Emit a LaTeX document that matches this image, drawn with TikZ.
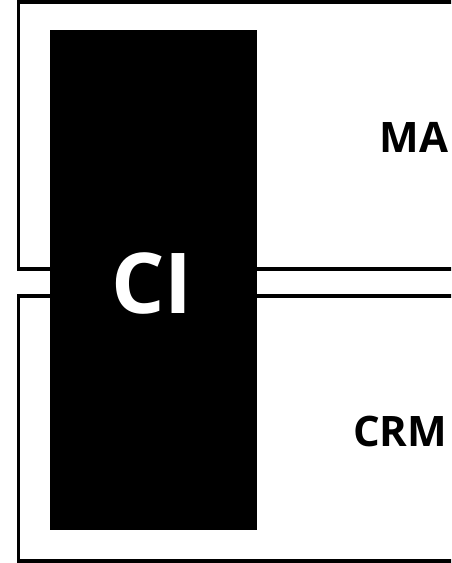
\documentclass[tikz,border=0pt]{standalone}
\usepackage{fontspec}
\setmainfont{Open Sans}
\begin{document}
\begin{tikzpicture}[x=1pt,y=-1pt,
  panel/.style={draw=black, line width=3.5pt, fill=white},
  lbl/.style={font=\bfseries\fontsize{42}{48}\selectfont, inner sep=0pt, anchor=base east, text=black},
  bar/.style={fill=black, draw=none}]
\clip (0,0) rectangle (451,563);
\fill[white] (0,0) rectangle (451,563);
\path[panel] (18.5,2) rectangle (480,269);
\coordinate (maTL) at (18.5,2);
\path[panel] (18.5,296) rectangle (480,561);
\coordinate (crmTL) at (18.5,296);
\node[bar, minimum width=207pt, minimum height=500pt, inner sep=0pt] (ci) at (153.5,280) {};
\node[lbl] (ma) at (448.5,152) {MA};
\node[lbl] (crm) at (447.5,446) {CRM};
\node[font=\bfseries\fontsize{84}{96}\selectfont, text=white, inner sep=0pt, anchor=base] (cilabel) at (152,313) {CI};
\end{tikzpicture}
\end{document}
